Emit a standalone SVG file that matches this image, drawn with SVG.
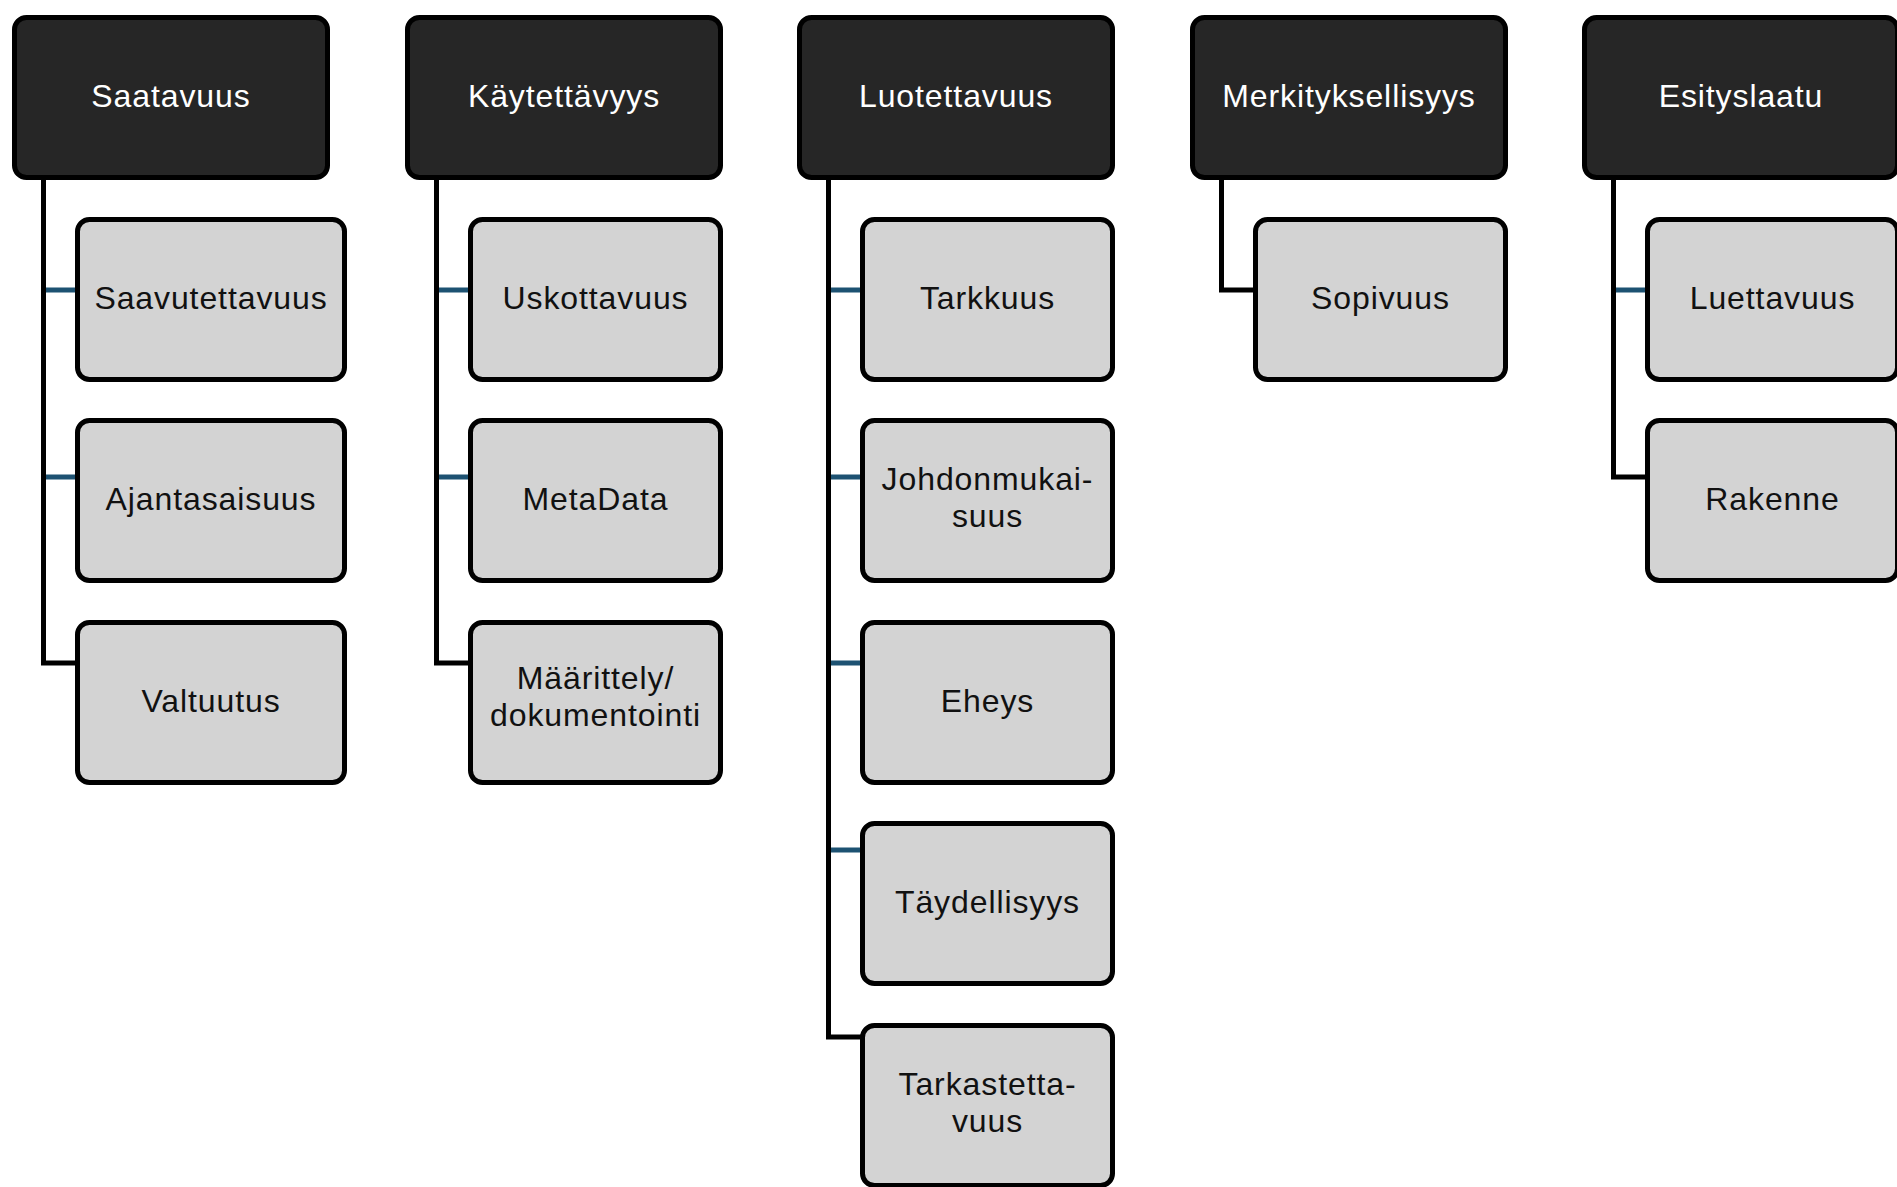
<svg xmlns="http://www.w3.org/2000/svg" width="1897" height="1187" viewBox="0 0 1897 1187">
  <style>
    .head rect { fill: #262626; stroke: #000; stroke-width: 5; }
    .item rect { fill: #d3d3d3; stroke: #000; stroke-width: 5; }
    text { font-family: "Liberation Sans", Arial, sans-serif; font-size: 32px; letter-spacing: 0.9px; text-anchor: middle; }
    .head text { fill: #ffffff; }
    .item text { fill: #111111; }
    .trunk { fill: none; stroke: #000; stroke-width: 5; stroke-linejoin: miter; }
    .tick { stroke: #1d5272; stroke-width: 5; }
  </style>
  <rect width="1897" height="1187" fill="#ffffff"/>

  <!-- connectors: blue ticks first, black trunks drawn over them -->
  <g id="connectors">
    <!-- column 1 -->
    <line class="tick" x1="43" y1="290" x2="77" y2="290"/>
    <line class="tick" x1="43" y1="477" x2="77" y2="477"/>
    <path class="trunk" d="M43.5 178 V663 H77"/>
    <!-- column 2 -->
    <line class="tick" x1="436" y1="290" x2="470" y2="290"/>
    <line class="tick" x1="436" y1="477" x2="470" y2="477"/>
    <path class="trunk" d="M436.5 178 V663 H470"/>
    <!-- column 3 -->
    <line class="tick" x1="828" y1="290" x2="862" y2="290"/>
    <line class="tick" x1="828" y1="477" x2="862" y2="477"/>
    <line class="tick" x1="828" y1="663" x2="862" y2="663"/>
    <line class="tick" x1="828" y1="850" x2="862" y2="850"/>
    <path class="trunk" d="M828.5 178 V1037 H862"/>
    <!-- column 4 -->
    <path class="trunk" d="M1221.5 178 V290 H1255"/>
    <!-- column 5 -->
    <line class="tick" x1="1613" y1="290" x2="1647" y2="290"/>
    <path class="trunk" d="M1613.5 178 V477 H1647"/>
  </g>

  <!-- column 1: Saatavuus -->
  <g id="saatavuus" class="head"><rect x="14.5" y="17.5" width="313" height="160" rx="12"/><text x="171" y="107">Saatavuus</text></g>
  <g id="saavutettavuus" class="item"><rect x="77.5" y="219.5" width="267" height="160" rx="12"/><text x="211" y="309">Saavutettavuus</text></g>
  <g id="ajantasaisuus" class="item"><rect x="77.5" y="420.5" width="267" height="160" rx="12"/><text x="211" y="510">Ajantasaisuus</text></g>
  <g id="valtuutus" class="item"><rect x="77.5" y="622.5" width="267" height="160" rx="12"/><text x="211" y="712">Valtuutus</text></g>

  <!-- column 2: Käytettävyys -->
  <g id="kaytettavyys" class="head"><rect x="407.5" y="17.5" width="313" height="160" rx="12"/><text x="564" y="107">Käytettävyys</text></g>
  <g id="uskottavuus" class="item"><rect x="470.5" y="219.5" width="250" height="160" rx="12"/><text x="595.5" y="309">Uskottavuus</text></g>
  <g id="metadata" class="item"><rect x="470.5" y="420.5" width="250" height="160" rx="12"/><text x="595.5" y="510">MetaData</text></g>
  <g id="maarittely" class="item"><rect x="470.5" y="622.5" width="250" height="160" rx="12"/><text x="595.5" y="689">Määrittely/</text><text x="595.5" y="726">dokumentointi</text></g>

  <!-- column 3: Luotettavuus -->
  <g id="luotettavuus" class="head"><rect x="799.5" y="17.5" width="313" height="160" rx="12"/><text x="956" y="107">Luotettavuus</text></g>
  <g id="tarkkuus" class="item"><rect x="862.5" y="219.5" width="250" height="160" rx="12"/><text x="987.5" y="309">Tarkkuus</text></g>
  <g id="johdonmukaisuus" class="item"><rect x="862.5" y="420.5" width="250" height="160" rx="12"/><text x="987.5" y="490">Johdonmukai-</text><text x="987.5" y="527">suus</text></g>
  <g id="eheys" class="item"><rect x="862.5" y="622.5" width="250" height="160" rx="12"/><text x="987.5" y="712">Eheys</text></g>
  <g id="taydellisyys" class="item"><rect x="862.5" y="823.5" width="250" height="160" rx="12"/><text x="987.5" y="913">Täydellisyys</text></g>
  <g id="tarkastettavuus" class="item"><rect x="862.5" y="1025.5" width="250" height="160" rx="12"/><text x="987.5" y="1095">Tarkastetta-</text><text x="987.5" y="1132">vuus</text></g>

  <!-- column 4: Merkityksellisyys -->
  <g id="merkityksellisyys" class="head"><rect x="1192.5" y="17.5" width="313" height="160" rx="12"/><text x="1349" y="107">Merkityksellisyys</text></g>
  <g id="sopivuus" class="item"><rect x="1255.5" y="219.5" width="250" height="160" rx="12"/><text x="1380.5" y="309">Sopivuus</text></g>

  <!-- column 5: Esityslaatu -->
  <g id="esityslaatu" class="head"><rect x="1584.5" y="17.5" width="313" height="160" rx="12"/><text x="1741" y="107">Esityslaatu</text></g>
  <g id="luettavuus" class="item"><rect x="1647.5" y="219.5" width="250" height="160" rx="12"/><text x="1772.5" y="309">Luettavuus</text></g>
  <g id="rakenne" class="item"><rect x="1647.5" y="420.5" width="250" height="160" rx="12"/><text x="1772.5" y="510">Rakenne</text></g>
</svg>
